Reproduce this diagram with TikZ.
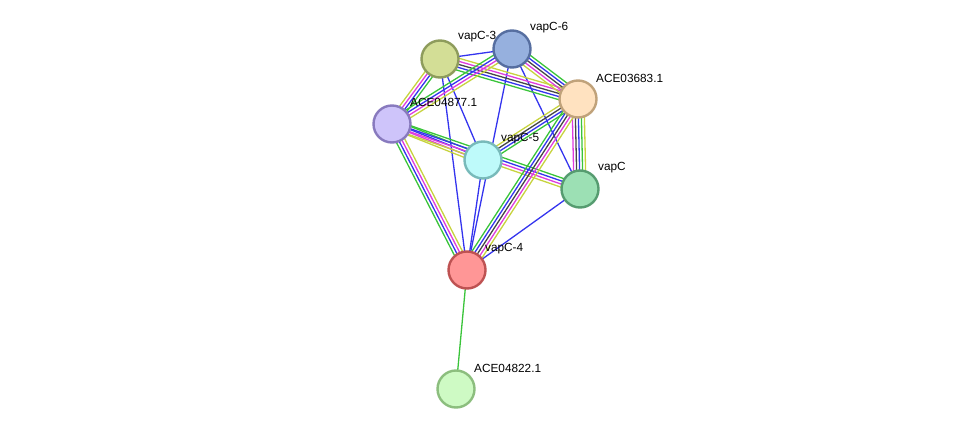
\documentclass[tikz,border=0pt]{standalone}
\usepackage{fontspec}
\setmainfont{Liberation Sans}
\usetikzlibrary{calc,backgrounds}
\definecolor{tmyellow}{RGB}{199,211,62}
\definecolor{coexpmag}{RGB}{222,60,222}
\definecolor{homblack}{RGB}{70,70,70}
\definecolor{expblue}{RGB}{52,52,238}
\definecolor{nbgreen}{RGB}{58,196,58}
\definecolor{fillthree}{RGB}{211,222,150}\definecolor{drawthree}{RGB}{142,156,92}
\definecolor{fillsix}{RGB}{150,176,222}\definecolor{drawsix}{RGB}{86,110,160}
\definecolor{fillace}{RGB}{255,226,192}\definecolor{drawace}{RGB}{192,162,122}
\definecolor{fillsevn}{RGB}{206,196,250}\definecolor{drawsevn}{RGB}{136,122,190}
\definecolor{fillfive}{RGB}{190,250,250}\definecolor{drawfive}{RGB}{120,186,186}
\definecolor{fillvc}{RGB}{156,224,180}\definecolor{drawvc}{RGB}{86,156,112}
\definecolor{fillfour}{RGB}{255,150,150}\definecolor{drawfour}{RGB}{190,82,82}
\definecolor{filltwo}{RGB}{206,250,196}\definecolor{drawtwo}{RGB}{140,190,126}

\tikzset{
  prot/.style={circle,line width=2.4pt,minimum size=37pt,inner sep=0pt},
  lbl/.style={anchor=west,font=\fontsize{11.8}{13}\selectfont,inner sep=0pt},
  link/.style={line width=1.3pt}
}
% parallel coloured lines between two named nodes
\newcommand{\bundle}[4]{%
  \foreach \col [count=\i] in {#4} {%
    \pgfmathsetmacro\off{(\i-(#3+1)/2)*3}
    \draw[link,\col] ($(#1)!\off pt!90:(#2)$) -- ($(#2)!\off pt!-90:(#1)$);
  }}

\begin{document}
\begin{tikzpicture}[x=1pt,y=-1pt]
  \useasboundingbox (0,0) rectangle (976,435);
  \node[prot,fill=fillthree,draw=drawthree] (v3) at (440,59) {};
  \node[prot,fill=fillsix,draw=drawsix] (v6) at (512,49) {};
  \node[prot,fill=fillace,draw=drawace] (a83) at (578,99) {};
  \node[prot,fill=fillsevn,draw=drawsevn] (a77) at (392,124) {};
  \node[prot,fill=fillfive,draw=drawfive] (v5) at (483,160) {};
  \node[prot,fill=fillvc,draw=drawvc] (vc) at (580,189) {};
  \node[prot,fill=fillfour,draw=drawfour] (v4) at (467,270) {};
  \node[prot,fill=filltwo,draw=drawtwo] (a22) at (456,389) {};

  \begin{scope}[on background layer]
    \bundle{v3}{v6}{1}{expblue}
    \bundle{v3}{v5}{1}{expblue}
    \bundle{v3}{v4}{1}{expblue}
    \bundle{v6}{v4}{1}{expblue}
    \bundle{v6}{vc}{1}{expblue}
    \bundle{v5}{v4}{1}{expblue}
    \bundle{vc}{v4}{1}{expblue}
    \bundle{v4}{a22}{1}{nbgreen}
    \bundle{v3}{a83}{5}{nbgreen,expblue,homblack,coexpmag,tmyellow}
    \bundle{v6}{a83}{5}{tmyellow,coexpmag,homblack,expblue,nbgreen}
    \bundle{v6}{a77}{4}{nbgreen,expblue,coexpmag,tmyellow}
    \bundle{v3}{a77}{4}{tmyellow,coexpmag,expblue,nbgreen}
    \bundle{a77}{v5}{4}{tmyellow,coexpmag,expblue,nbgreen}
    \bundle{a77}{vc}{4}{tmyellow,coexpmag,expblue,nbgreen}
    \bundle{a77}{v4}{4}{nbgreen,expblue,coexpmag,tmyellow}
    \bundle{a83}{v5}{4}{tmyellow,homblack,expblue,nbgreen}
    \bundle{a83}{vc}{5}{coexpmag,homblack,expblue,nbgreen,tmyellow}
    \bundle{a83}{v4}{5}{nbgreen,expblue,homblack,coexpmag,tmyellow}
  \end{scope}

  \node[lbl] (t3) at ($(v3)+(18,-22)$) {vapC-3};
  \node[lbl] (t6) at ($(v6)+(18,-21)$) {vapC-6};
  \node[lbl] (t83) at ($(a83)+(18,-21)$) {ACE03683.1};
  \node[lbl] (t77) at ($(a77)+(18,-22)$) {ACE04877.1};
  \node[lbl] (t5) at ($(v5)+(18,-21)$) {vapC-5};
  \node[lbl] (tc) at ($(vc)+(18,-21)$) {vapC};
  \node[lbl] (t4) at ($(v4)+(18,-21)$) {vapC-4};
  \node[lbl] (t22) at ($(a22)+(18,-21)$) {ACE04822.1};
\end{tikzpicture}
\end{document}
